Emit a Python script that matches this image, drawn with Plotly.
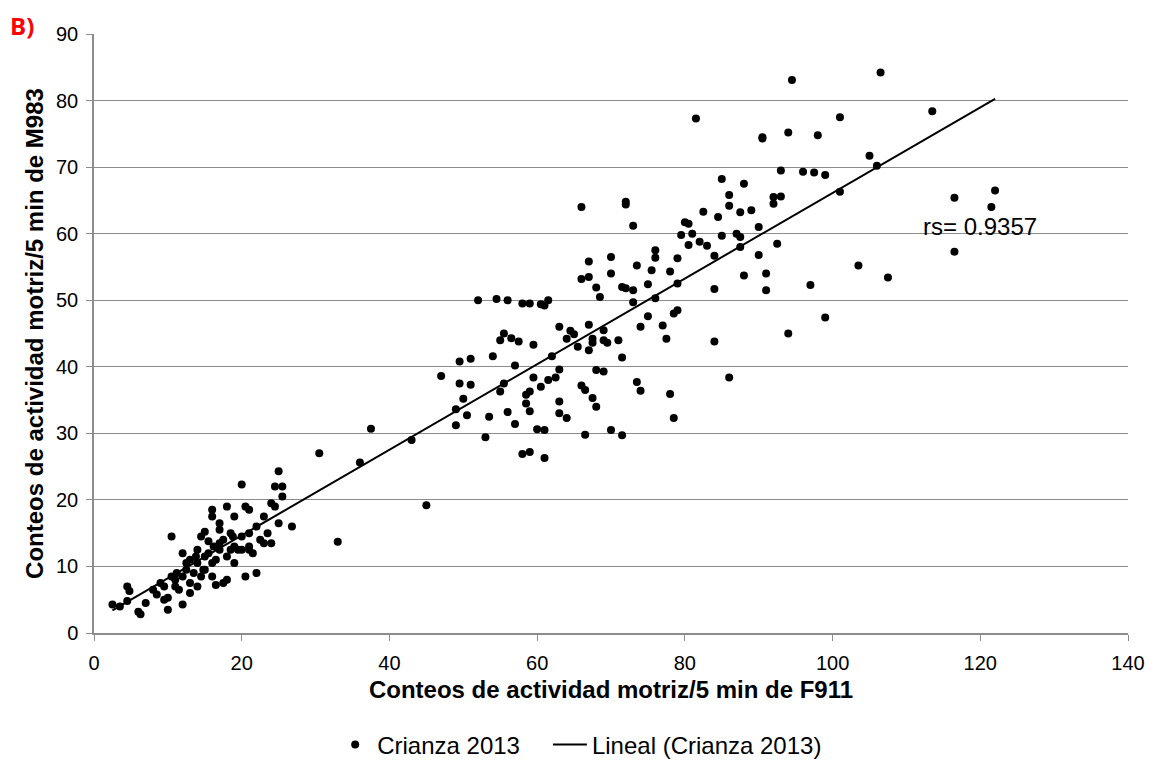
import numpy as np
import plotly.graph_objects as go

# Crianza 2013 data (F911 counts, M983 counts)
x_vals = [2.5, 3.5, 4.5, 4.5, 4.8, 6.0, 6.3, 7.0, 8.0, 8.5, 9.0, 9.5, 9.5, 10.0, 10.0, 10.5, 10.5, 11.0, 11.0,
          11.5, 12.0, 12.0, 12.0, 12.5, 13.0, 13.0, 13.0, 13.5, 14.0, 14.0, 14.0, 14.5, 14.5, 15.0, 15.0, 15.0,
          15.5, 15.5, 16.0, 16.0, 16.0, 16.0, 16.5, 16.5, 17.0, 17.0, 17.0, 17.0, 17.5, 17.5, 18.0, 18.0, 18.0,
          18.5, 18.5, 19.0, 19.0, 19.5, 20.0, 20.0, 20.0, 20.5, 20.5, 21.0, 21.0, 21.0, 21.5, 22.0, 22.0, 22.5,
          23.0, 23.0, 23.5, 24.0, 24.0, 24.5, 24.5, 25.0, 25.0, 25.5, 25.5, 26.8, 21.0, 19.0, 12.5, 14.8, 16.2,
          18.8, 11.2, 13.8,
          30.5, 33.0, 36.0, 37.5, 43.0, 45.0, 47.0, 49.0, 49.0, 49.5, 49.5, 50.0, 50.5, 51.0, 51.0, 52.0, 53.0,
          53.5, 54.0, 54.5, 55.0, 55.0, 55.5, 55.5, 56.0, 56.0, 56.5, 57.0, 57.0, 57.5, 58.0, 58.0, 58.5, 58.5,
          59.0, 59.0, 59.0, 59.0, 59.5, 59.5, 60.0, 60.5, 60.5, 61.0, 61.0, 61.0, 61.5, 61.5, 62.0, 62.5, 63.0,
          63.0, 63.0, 63.0, 64.0, 64.0, 64.5, 65.0, 65.5, 66.0, 66.0, 66.0, 66.5, 66.5, 67.0, 67.0, 67.0, 67.0,
          67.5, 67.5, 67.5, 68.0, 68.0, 68.0, 68.5, 69.0, 69.0, 69.0, 69.5, 70.0, 70.0, 70.0, 71.0, 71.5, 71.5,
          71.5, 72.0, 72.0, 72.0, 73.0, 73.0, 73.0, 73.5, 73.5, 74.0, 74.0, 75.0, 75.0, 75.5, 76.0, 76.0, 76.0,
          77.0, 77.5, 78.0, 78.0, 78.5, 78.5, 79.0, 79.0, 79.0, 79.5, 80.0, 80.5, 80.5, 81.0, 81.5, 82.0, 82.5,
          83.0, 84.0, 84.0, 84.0, 84.5, 85.0, 85.0, 86.0, 86.0, 86.0, 87.0, 87.5, 87.5, 87.5, 88.0, 88.0, 89.0,
          90.0, 90.0, 90.5, 90.5, 91.0, 91.0, 92.0, 92.0, 92.5, 93.0, 93.0, 94.0, 94.0, 94.5, 96.0, 97.0, 97.5,
          98.0, 99.0, 99.0, 101.0, 101.0, 103.5, 105.0, 106.0, 106.5, 107.5, 113.5, 116.5, 116.5, 121.5, 122.0]
y_vals = [4.3, 4.0, 4.8, 7.0, 6.3, 3.2, 2.8, 4.5, 6.5, 5.8, 7.5, 7.0, 5.0, 3.5, 5.3, 8.5, 14.5, 7.0, 8.0,
          6.5, 8.5, 12.0, 4.3, 9.5, 11.0, 7.5, 6.0, 9.0, 10.5, 12.5, 7.0, 8.5, 14.5, 11.5, 9.5, 15.2,
          12.0, 13.8, 10.5, 17.5, 18.5, 8.5, 7.2, 11.0, 15.5, 12.5, 13.5, 16.5, 14.0, 7.5, 19.0, 11.5, 8.0,
          12.5, 15.0, 17.5, 13.0, 12.5, 22.3, 14.5, 12.5, 8.5, 19.0, 15.0, 18.5, 13.0, 12.0, 16.0, 9.0, 14.0,
          17.5, 13.5, 15.0, 19.5, 13.5, 22.0, 19.0, 16.5, 24.3, 20.5, 22.0, 16.0, 12.5, 10.5, 10.5, 9.5, 13.0,
          14.5, 9.0, 11.5,
          27.0, 13.7, 25.6, 30.7, 29.0, 19.2, 38.6, 31.2, 33.6, 37.5, 40.8, 35.2, 32.7, 37.3, 41.2, 50.0, 29.4,
          32.5, 41.6, 50.2, 36.3, 44.0, 45.0, 37.5, 33.2, 50.0, 44.3, 40.2, 31.4, 43.8, 26.9, 49.5, 34.5, 35.8,
          49.5, 33.3, 36.3, 27.2, 38.4, 43.3, 30.6, 37.0, 49.4, 26.3, 30.5, 49.2, 38.0, 50.0, 41.6, 38.4, 46.0,
          33.0, 34.8, 39.6, 44.2, 32.3, 45.4, 44.9, 43.0, 53.2, 37.2, 64.0, 36.5, 29.8, 42.5, 55.8, 53.5, 46.3,
          43.6, 44.2, 35.3, 34.0, 39.5, 51.9, 50.5, 45.5, 39.3, 44.0, 43.6, 54.0, 30.5, 56.5, 44.0, 52.0, 29.7,
          41.4, 51.8, 64.4, 64.8, 61.2, 49.7, 51.5, 55.2, 37.7, 36.4, 46.0, 47.6, 52.4, 54.5, 50.3, 57.5, 56.4,
          46.2, 44.2, 54.3, 35.9, 32.3, 48.0, 48.5, 52.5, 56.3, 59.8, 61.7, 61.5, 58.3, 60.0, 77.3, 58.8, 63.3,
          58.2, 51.7, 43.8, 56.7, 62.5, 68.2, 59.7, 65.8, 38.4, 64.2, 60.0, 59.5, 63.2, 58.0, 53.7, 67.5, 63.5,
          56.8, 61.0, 74.5, 74.3, 51.5, 54.0, 65.5, 64.5, 58.5, 65.6, 69.5, 75.2, 45.0, 83.1, 69.3, 52.3, 69.2,
          74.8, 47.4, 68.8, 77.5, 66.3, 55.2, 71.7, 70.2, 84.2, 53.4, 78.4, 65.4, 57.3, 64.0, 66.5]

x_ticks = [0, 20, 40, 60, 80, 100, 120, 140]
y_ticks = [0, 10, 20, 30, 40, 50, 60, 70, 80, 90]
rs_label = "rs= 0.9357"

xa = np.array(x_vals)
ya = np.array(y_vals)
slope, intercept = np.polyfit(xa, ya, 1)
fit_x = np.array([xa.min(), xa.max()])
fit_y = slope * fit_x + intercept

fig = go.Figure()
fig.add_trace(go.Scatter(x=x_vals, y=y_vals, mode="markers", name="Crianza 2013",
                         marker=dict(color="black", size=8), legend="legend"))
fig.add_trace(go.Scatter(x=fit_x, y=fit_y, mode="lines", name="Lineal (Crianza 2013)",
                         line=dict(color="black", width=2), legend="legend2"))

font_fam = "Liberation Sans, Arial, sans-serif"
grey = "#8c8c8c"
leg_common = dict(orientation="h", y=-0.187, yanchor="middle", font=dict(size=24), itemwidth=34,
                  bgcolor="rgba(0,0,0,0)")
fig.update_layout(
    width=1158, height=763,
    margin=dict(l=94, r=30, t=34, b=130, autoexpand=False),
    plot_bgcolor="white", paper_bgcolor="white",
    font=dict(family=font_fam, size=20, color="black"),
    showlegend=True,
    legend=dict(x=0.417, xanchor="right", **leg_common),
    legend2=dict(x=0.439, xanchor="left", **leg_common),
    xaxis=dict(range=[0, 140], tickvals=x_ticks, showgrid=False, zeroline=False,
               showline=True, linecolor=grey, linewidth=1.5, ticks="outside",
               tickcolor=grey, ticklen=6, ticklabelstandoff=5, automargin=False,
               tickfont=dict(size=20),
               title=dict(text="<b>Conteos de actividad motriz/5 min de F911</b>",
                          font=dict(size=24), standoff=8)),
    yaxis=dict(range=[0, 90], tickvals=y_ticks, showgrid=True, gridcolor=grey, gridwidth=1.2,
               zeroline=False, showline=True, linecolor=grey, linewidth=1.5, ticks="outside",
               tickcolor=grey, ticklen=6, ticklabelstandoff=4, automargin=False,
               tickfont=dict(size=20),
               title=dict(text="<b>Conteos de actividad motriz/5 min de M983</b>",
                          font=dict(size=24), standoff=6)),
)
fig.add_annotation(x=112.5, y=61.1, text=rs_label, showarrow=False, xanchor="left",
                   yanchor="middle", xshift=-4, font=dict(size=24, color="black"))
fig.add_annotation(x=-0.0832, y=1.045, xref="paper", yref="paper", text="<b>B)</b>",
                   showarrow=False, xanchor="left", yanchor="top",
                   font=dict(size=24, color="red", family="Open Sans, sans-serif"))
fig.write_html("out.html")
